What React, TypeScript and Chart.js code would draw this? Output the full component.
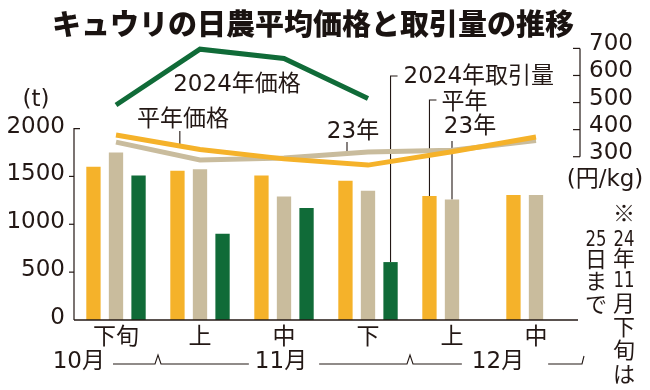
import React, { useEffect, useRef } from 'react';
import { Chart, registerables } from 'chart.js';

Chart.register(...registerables);

const FONT = '"DejaVu Sans", "Noto Sans CJK JP", sans-serif';
const JP = '"Noto Sans CJK JP", sans-serif';
const INK = '#231815';
const ORANGE = '#f5b22a';
const BEIGE = '#c9bc9d';
const GREEN = '#106b38';

const titleText = 'キュウリの日農平均価格と取引量の推移';
const categories = ['下旬', '上', '中', '下', '上', '中'];
const months = ['10月', '11月', '12月'];
const monthFirstIndex = [0, 1, 4];

// 取引量 (t)
const volumeNormal = [1600, 1560, 1510, 1455, 1295, 1305];
const volume2023 = [1750, 1575, 1290, 1350, 1260, 1305];
const volume2024 = [1510, 900, 1170, 605, null, null];

// 価格 (円/kg)
const priceNormal = [380, 327, 292, 269, 318, 373];
const price2023 = [354, 288, 295, 317, 324, 360];
const price2024 = [491, 697, 663, 515, null, null];

const volumeTicks = [0, 500, 1000, 1500, 2000];
const priceTicks = [300, 400, 500, 600, 700];

const noteRight = ['※', '24', '年', '11', '月', '下', '旬', 'は'];
const noteRightY = [213, 240, 258, 281, 303, 327, 350, 374];
const noteLeft = ['25', '日', 'ま', 'で'];
const noteLeftY = [240, 259, 281, 304];

function drawText(ctx: any, s: string, x: number, y: number, align: string = 'center', font: string = `23px ${FONT}`) {
  ctx.font = font;
  ctx.textAlign = align;
  ctx.textBaseline = 'middle';
  ctx.fillStyle = INK;
  ctx.fillText(s, x, y);
}

function drawNoteToken(ctx: any, s: string, x: number, y: number) {
  if (/^\d+$/.test(s)) {
    ctx.save();
    ctx.translate(x, y);
    ctx.scale(0.75, 1);
    drawText(ctx, s, 0, 0, 'center', `22px ${FONT}`);
    ctx.restore();
  } else {
    drawText(ctx, s, x, y, 'center', `22px ${JP}`);
  }
}

function line(ctx: any, pts: number[][]) {
  ctx.beginPath();
  ctx.moveTo(pts[0][0], pts[0][1]);
  for (let i = 1; i < pts.length; i++) ctx.lineTo(pts[i][0], pts[i][1]);
  ctx.stroke();
}

function lineYAt(chart: any, dsIndex: number, pos: number) {
  const pts = chart.getDatasetMeta(dsIndex).data;
  const i = Math.floor(pos);
  const t = pos - i;
  return pts[i].y + (pts[i + 1].y - pts[i].y) * t;
}

const overlay = {
  id: 'overlay',
  beforeDatasetsDraw(chart: any) {
    const ctx = chart.ctx;
    const xs = chart.scales.x;
    ctx.save();
    ctx.strokeStyle = INK;
    ctx.lineWidth = 1.1;
    // 平年価格 leader
    const p1 = 0.76;
    const x1 = xs.getPixelForValue(p1);
    line(ctx, [[x1, 131], [x1, lineYAt(chart, 3, p1)]]);
    // 23年 (price) leader
    const p2 = 2.75;
    const x2 = xs.getPixelForValue(p2);
    line(ctx, [[x2, 142], [x2, lineYAt(chart, 4, p2)]]);
    // 2024年取引量 leader
    const g = chart.getDatasetMeta(2).data[3];
    line(ctx, [[g.x + 7, 76], [g.x, 76], [g.x, g.y]]);
    // 平年 (volume) leader
    const o = chart.getDatasetMeta(0).data[4];
    line(ctx, [[o.x + 7, 100], [o.x, 100], [o.x, o.y]]);
    // 23年 (volume) leader
    const b = chart.getDatasetMeta(1).data[4];
    line(ctx, [[b.x, 141], [b.x, b.y]]);
    ctx.restore();
  },
  afterDraw(chart: any) {
    const ctx = chart.ctx;
    const xs = chart.scales.x;
    const ys = chart.scales.y;
    const y2 = chart.scales.y2;
    const area = chart.chartArea;
    ctx.save();

    // title
    ctx.fillStyle = '#1a1311';
    ctx.font = `900 29px ${JP}`;
    ctx.textAlign = 'center';
    ctx.textBaseline = 'middle';
    ctx.fillText(titleText, 313, 24);

    ctx.strokeStyle = INK;
    // x axis line
    const y0 = ys.getPixelForValue(0);
    ctx.lineWidth = 1.6;
    line(ctx, [[area.left, y0], [area.right, y0]]);
    // left axis
    ctx.lineWidth = 1.2;
    const yTop = ys.getPixelForValue(volumeTicks[volumeTicks.length - 1]);
    line(ctx, [[area.left, y0], [area.left, yTop], [area.left + 6, yTop]]);
    volumeTicks.slice(1, -1).forEach(v => {
      const yy = ys.getPixelForValue(v);
      line(ctx, [[area.left - 5, yy], [area.left, yy]]);
    });
    // right bracket
    const bx = area.right + 2;
    line(ctx, [[bx, y2.getPixelForValue(priceTicks[0])], [bx, y2.getPixelForValue(priceTicks[priceTicks.length - 1])]]);
    priceTicks.forEach(v => {
      const yy = y2.getPixelForValue(v);
      line(ctx, [[bx - 7, yy], [bx, yy]]);
    });

    // units
    drawText(ctx, '(t)', 36, 100);
    drawText(ctx, '(円/kg)', 605, 180);

    // month row
    const step = xs.getPixelForValue(1) - xs.getPixelForValue(0);
    const rowY = 362;
    const lineY = 364;
    ctx.lineWidth = 1.1;
    ctx.font = `23px ${FONT}`;
    const c0 = xs.getPixelForValue(monthFirstIndex[0]);
    const m1a = xs.getPixelForValue(monthFirstIndex[1]);
    const m1b = xs.getPixelForValue(monthFirstIndex[2] - 1);
    const m2a = xs.getPixelForValue(monthFirstIndex[2]);
    const m2b = xs.getPixelForValue(categories.length - 1);
    const b1 = (c0 + m1a) / 2;
    const b2 = (m1b + m2a) / 2;
    const l0right = c0 - 11;
    drawText(ctx, months[0], l0right, rowY, 'right');
    const c1 = (m1a + m1b) / 2 - 3;
    drawText(ctx, months[1], c1, rowY, 'center');
    const w1 = ctx.measureText(months[1]).width;
    const c2 = (m2a + m2b) / 2 + 4;
    drawText(ctx, months[2], c2, rowY, 'center');
    const w2 = ctx.measureText(months[2]).width;
    line(ctx, [[l0right + 8, lineY], [b1 - 3, lineY], [b1, lineY - 9], [b1 + 3, lineY], [c1 - w1 / 2 - 6, lineY]]);
    line(ctx, [[c1 + w1 / 2 + 12, lineY], [b2 - 3, lineY], [b2, lineY - 9], [b2 + 3, lineY], [c2 - w2 / 2 - 10, lineY]]);
    const endX = m2b + step / 2 + 4;
    line(ctx, [[c2 + w2 / 2 + 24, lineY], [endX, lineY], [endX + 2, lineY - 8]]);

    // annotations
    drawText(ctx, '2024年価格', 237, 85);
    drawText(ctx, '平年価格', 183, 120);
    drawText(ctx, '23年', 353, 132);
    const g = chart.getDatasetMeta(2).data[3];
    drawText(ctx, '2024年取引量', g.x + 13, 77, 'left');
    const o = chart.getDatasetMeta(0).data[4];
    drawText(ctx, '平年', o.x + 12, 103, 'left');
    drawText(ctx, '23年', 470, 127);

    // note (vertical)
    noteRight.forEach((s, i) => drawNoteToken(ctx, s, 624, noteRightY[i]));
    noteLeft.forEach((s, i) => drawNoteToken(ctx, s, 596, noteLeftY[i]));

    ctx.restore();
  },
};

export default function App() {
  const ref = useRef<HTMLCanvasElement | null>(null);
  useEffect(() => {
    if (!ref.current) return;
    const barCommon = { type: 'bar', yAxisID: 'y', barPercentage: 0.635, categoryPercentage: 0.805, order: 10 };
    const lineCommon = {
      type: 'line', yAxisID: 'y2', borderWidth: 5, pointRadius: 0, tension: 0, fill: false,
      borderCapStyle: 'butt', borderJoinStyle: 'miter', spanGaps: false,
    };
    const chart = new Chart(ref.current, {
      type: 'bar',
      data: {
        labels: categories,
        datasets: [
          { ...barCommon, label: '平年取引量', data: volumeNormal, backgroundColor: ORANGE },
          { ...barCommon, label: '23年取引量', data: volume2023, backgroundColor: BEIGE },
          { ...barCommon, label: '2024年取引量', data: volume2024, backgroundColor: GREEN },
          { ...lineCommon, label: '平年価格', data: priceNormal, borderColor: ORANGE, order: 1 },
          { ...lineCommon, label: '23年価格', data: price2023, borderColor: BEIGE, order: 2 },
          { ...lineCommon, label: '2024年価格', data: price2024, borderColor: GREEN, order: 0 },
        ] as any,
      },
      options: {
        responsive: false,
        animation: false,
        devicePixelRatio: 1,
        layout: { padding: { top: 40, left: 0, right: 0, bottom: 0 } },
        plugins: { legend: { display: false }, tooltip: { enabled: false }, title: { display: false } },
        scales: {
          x: {
            position: 'bottom',
            offset: true,
            grid: { display: false, drawTicks: false },
            border: { display: false },
            ticks: { color: INK, font: { family: FONT, size: 23 }, padding: 4, maxRotation: 0, autoSkip: false },
            afterFit: (s: any) => { s.height = 70; },
          },
          y: {
            position: 'left',
            min: 0,
            max: 2925,
            grid: { display: false, drawTicks: false },
            border: { display: false },
            ticks: { color: INK, font: { family: FONT, size: 23 }, padding: 9, labelOffset: -2, callback: (v: any) => String(v) },
            afterBuildTicks: (s: any) => { s.ticks = volumeTicks.map(v => ({ value: v })); },
            afterFit: (s: any) => { s.width = 74; },
          },
          y2: {
            position: 'right',
            min: -303,
            max: 731,
            grid: { display: false, drawTicks: false },
            border: { display: false },
            ticks: { color: INK, font: { family: FONT, size: 23 }, padding: 11, labelOffset: -4, callback: (v: any) => String(v) },
            afterBuildTicks: (s: any) => { s.ticks = priceTicks.map(v => ({ value: v })); },
            afterFit: (s: any) => { s.width = 72; },
          },
        },
      } as any,
      plugins: [overlay],
    });
    return () => chart.destroy();
  }, []);
  return (
    <div style={{ position: 'fixed', left: 0, top: 0, width: 650, height: 390, background: '#fff' }}>
      <canvas ref={ref} width={650} height={390} style={{ width: 650, height: 390, display: 'block' }} />
    </div>
  );
}
